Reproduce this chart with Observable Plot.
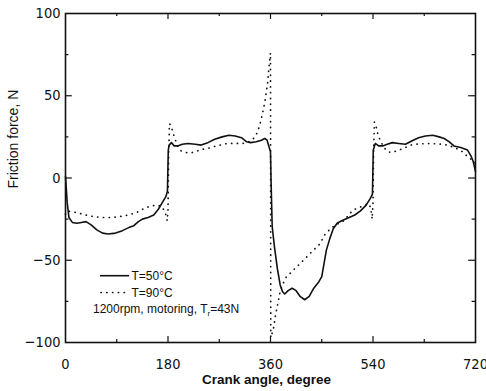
<!DOCTYPE html>
<html><head><meta charset="utf-8">
<script src="https://cdn.jsdelivr.net/npm/d3@7"></script>
<script src="https://cdn.jsdelivr.net/npm/@observablehq/plot@0.6"></script>
<style>
body{margin:0;background:#fff;}
#wrap{position:relative;width:486px;height:391px;}
</style></head><body><div id="wrap"></div>
<script>
// T = 50°C (solid)
const angle50 = [0,3,6,12,20,28,36,45,55,65,75,88,100,112,120,128,135,145,155,163,170,176,179,180.5,182,186,191,197,205,215,228,238,250,262,275,287,298,309,318,325,335,344,350,354,357,360,361,363,367,372,377,381,385,391,398,405,412,420,428,436,445,450,454,458,464,470,477,485,495,508,518,528,535,539,540.5,544,550,557,565,574,585,597,608,620,632,645,656,665,674,682,694,706,712,716,720];
const force50 = [1,-15,-24,-27,-27.5,-27,-26.5,-28.5,-31.5,-33.5,-34,-33.5,-32,-30,-29,-26.5,-25,-24,-22.5,-19,-15,-11.5,-8,17,20,21.5,19.5,19.5,20.5,21,20.5,20,21.5,23.5,25,26,25.5,24.5,22,21.5,22,23,24,23,19.5,16,-2,-29.6,-42,-55,-65,-69,-70.5,-68.5,-67,-68.5,-72,-74,-72,-67,-63,-60,-52,-44,-37,-31,-27.5,-26,-24.5,-22.5,-20,-16.5,-12.5,-10,17,21,19.5,19.5,20.5,21.5,21,20.5,22.5,24.5,25.5,26,25,24,22,19.5,18.5,17,13.5,10,4];
// T = 90°C (dotted)
const angle90 = [0,3,10,20,35,50,65,80,95,110,125,138,150,161,170,176,178.5,180,181,182.5,185,191,197,203,212,220,230,241,250,265,284,300,311,322,332,338,344,350,355,358,360,360.5,365,369,373,377,381,388,396,403,415,425,435,447,456,468,480,489,497,505,512,522,532,536,538.5,540,541,542.5,545,549,554,559,565,571,583,597,606,620,641,660,672,682,690,697,706,714,720];
const force90 = [-22,-20,-20.5,-21,-22.5,-23.5,-24,-24,-23.5,-22.5,-21,-18.5,-17,-16.4,-17.5,-22,-26,-20,10,33,32,25,19.5,16.5,15.5,15.2,16.3,17.5,18,19.5,21,21,21,22,24.5,28.5,36,46,58,70,76,-97,-92,-83,-76,-69,-65,-60,-57.5,-55,-51,-47.5,-44,-40,-34,-30,-27.5,-26,-22.5,-19.5,-18.5,-17,-15.5,-18,-25,-15,15,34,32,26,22,18.6,16.5,15.4,16.6,18.6,20,20.7,21,20.5,20,18.5,17.5,16,13,11,9];

const xTickLabels = [0,180,360,540,720];
const yTickLabels = [-100,-50,0,50,100];
const xMajor = [180,360,540];
const xMinor = [90,270,450,630];
const yMajor = [-50,0,50];
const yMinor = [-75,-25,25,75];

const d50 = angle50.map((a,i)=>({angle:a, force:force50[i]}));
const d90 = angle90.map((a,i)=>({angle:a, force:force90[i]}));

const ink = "#111";
const narrow = "'Liberation Sans Narrow','Arial Narrow','DejaVu Sans Condensed',sans-serif";
const sans = "'Liberation Sans',Arial,Helvetica,sans-serif";
const dots = "0.2 5.6";

const plot = Plot.plot({
  width: 486, height: 391,
  marginLeft: 65, marginRight: 11, marginTop: 13, marginBottom: 49,
  style: {fontFamily: narrow, background: "#fff", color: ink},
  x: {domain: [0,720]},
  y: {domain: [-100,100]},
  marks: [
    Plot.axisX({ticks: xTickLabels, tickSize: 0, tickPadding: 16, fontSize: 14.5, label: null}),
    Plot.axisY({ticks: yTickLabels, tickSize: 0, tickPadding: 5, fontSize: 14.5, label: null}),
    // inward ticks bottom/top
    Plot.ruleX(xMajor, {x: d=>d, y1: -100, y2: -96.4, stroke: ink, strokeWidth: 1.2}),
    Plot.ruleX(xMinor, {x: d=>d, y1: -100, y2: -98.2, stroke: ink, strokeWidth: 1.2}),
    Plot.ruleX(xMajor, {x: d=>d, y1: 100, y2: 96.4, stroke: ink, strokeWidth: 1.2}),
    Plot.ruleX(xMinor, {x: d=>d, y1: 100, y2: 98.2, stroke: ink, strokeWidth: 1.2}),
    // inward ticks left/right
    Plot.ruleY(yMajor, {y: d=>d, x1: 0, x2: 12, stroke: ink, strokeWidth: 1.2}),
    Plot.ruleY(yMinor, {y: d=>d, x1: 0, x2: 6, stroke: ink, strokeWidth: 1.2}),
    Plot.ruleY(yMajor, {y: d=>d, x1: 720, x2: 708, stroke: ink, strokeWidth: 1.2}),
    Plot.ruleY(yMinor, {y: d=>d, x1: 720, x2: 714, stroke: ink, strokeWidth: 1.2}),
    Plot.line(d90, {x: "angle", y: "force", stroke: ink, strokeWidth: 1.7, strokeDasharray: dots, strokeLinecap: "round"}),
    Plot.line(d50, {x: "angle", y: "force", stroke: ink, strokeWidth: 1.6}),
    Plot.frame({stroke: ink, strokeWidth: 1.6}),
    Plot.text(["Friction force, N"], {frameAnchor: "left", rotate: -90, dx: -52, dy: 10.5, fontSize: 14, fontFamily: sans, fill: ink}),
    Plot.text(["Crank angle, degree"], {frameAnchor: "bottom", dx: -4, dy: 41, fontSize: 13.5, fontWeight: "bold", fontFamily: sans, fill: ink})
  ]
});
document.getElementById("wrap").appendChild(plot);

// legend
const svg = d3.select(plot);
const leg = svg.append("g").attr("font-family", sans).attr("font-size", 12).attr("fill", ink).attr("text-anchor", "start");
leg.append("line").attr("x1",100).attr("x2",129).attr("y1",275.7).attr("y2",275.7).attr("stroke",ink).attr("stroke-width",1.6);
leg.append("line").attr("x1",101).attr("x2",129).attr("y1",292.5).attr("y2",292.5).attr("stroke",ink).attr("stroke-width",1.7).attr("stroke-dasharray",dots).attr("stroke-linecap","round");
leg.append("text").attr("x",131.5).attr("y",280.2).text("T=50°C");
leg.append("text").attr("x",131.5).attr("y",296.7).text("T=90°C");
const t3 = leg.append("text").attr("x",93).attr("y",313);
t3.append("tspan").text("1200rpm, motoring, T");
t3.append("tspan").attr("font-size",8).attr("dy",2.5).text("r");
t3.append("tspan").attr("dy",-2.5).text("=43N");
</script></body></html>
